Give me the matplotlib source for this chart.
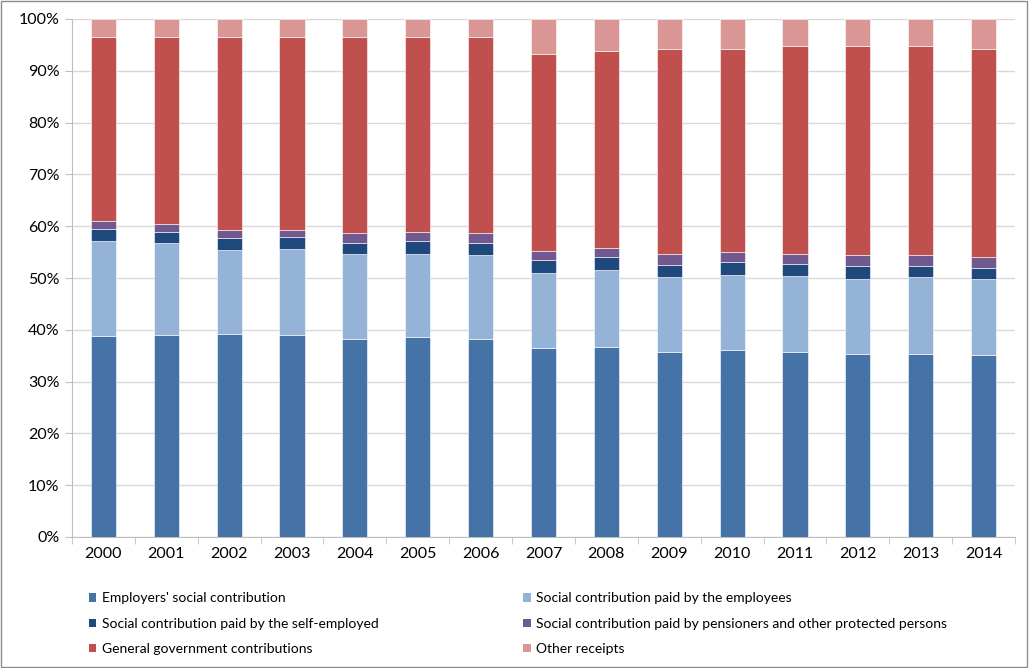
import matplotlib
matplotlib.use('Agg')
import matplotlib.pyplot as plt
import numpy as np
from matplotlib.patches import Rectangle, Patch
from matplotlib.ticker import PercentFormatter, FixedLocator

plt.rcParams['font.family'] = ['Lato', 'DejaVu Sans']

years = ['2000', '2001', '2002', '2003', '2004', '2005', '2006', '2007',
         '2008', '2009', '2010', '2011', '2012', '2013', '2014']

# shares in % of total receipts
employers = [38.8, 38.9, 39.1, 38.9, 38.2, 38.6, 38.3, 36.4, 36.7, 35.8, 36.1, 35.8, 35.3, 35.3, 35.1]
employees = [18.4, 17.8, 16.4, 16.7, 16.4, 16.0, 16.1, 14.6, 14.8, 14.3, 14.4, 14.5, 14.6, 14.8, 14.7]
self_emp = [2.3, 2.2, 2.2, 2.3, 2.2, 2.6, 2.3, 2.5, 2.5, 2.5, 2.5, 2.4, 2.5, 2.3, 2.2]
pensioners = [1.5, 1.5, 1.6, 1.4, 1.8, 1.7, 1.9, 1.7, 1.7, 2.0, 2.0, 2.0, 2.0, 2.0, 2.1]
government = [35.6, 36.2, 37.3, 37.3, 38.0, 37.7, 38.0, 38.0, 38.2, 39.7, 39.3, 40.0, 40.3, 40.3, 40.2]
other = [3.4, 3.4, 3.4, 3.4, 3.4, 3.4, 3.4, 6.8, 6.1, 5.7, 5.7, 5.3, 5.3, 5.3, 5.7]

labels = ["Employers' social contribution",
          "Social contribution paid by the employees",
          "Social contribution paid by the self-employed",
          "Social contribution paid by pensioners and other protected persons",
          "General government contributions",
          "Other receipts"]
colors = ['#4572A7', '#95B3D7', '#1F497D', '#71588F', '#C0504D', '#D99694']
series = [employers, employees, self_emp, pensioners, government, other]

fig = plt.figure(figsize=(10.29, 6.68), dpi=100)
ax = fig.add_axes([72 / 1029, 1 - 537 / 668, (1015 - 72) / 1029, (537 - 19) / 668])

x = np.arange(len(years))
bottom = np.zeros(len(years))
for vals, col, lab in zip(series, colors, labels):
    vals = np.array(vals)
    ax.bar(x, vals, 0.4, bottom=bottom, color=col, label=lab,
           edgecolor='white', linewidth=0.4, zorder=3)
    bottom += vals

ax.set_xlim(-0.5, len(years) - 0.5)
ax.set_ylim(0, 100)
ax.set_yticks(np.arange(0, 101, 10))
ax.yaxis.set_major_formatter(PercentFormatter(decimals=0))
ax.set_xticks(x)
ax.set_xticklabels(years)
ax.xaxis.set_minor_locator(FixedLocator(np.arange(-0.5, len(years), 1)))
ax.tick_params(axis='x', which='major', length=0, labelsize=11.5, pad=7)
ax.tick_params(axis='x', which='minor', length=5, color='#BFBFBF')
ax.tick_params(axis='y', length=5, color='#BFBFBF', labelsize=11.5, pad=4)
ax.grid(axis='y', color='#D9D9D9', linewidth=1, zorder=0)
for s in ['top', 'right']:
    ax.spines[s].set_visible(False)
for s in ['left', 'bottom']:
    ax.spines[s].set_color('#BFBFBF')

# legend laid out row-wise like the original (matplotlib fills columns first)
order = [0, 2, 4, 1, 3, 5]
handles = [Patch(facecolor=colors[i]) for i in order]
fig.legend(handles, [labels[i] for i in order], ncol=2, loc='upper left',
           bbox_to_anchor=(76 / 1029, 1 - 580 / 668), frameon=False,
           fontsize=10, handlelength=0.55, handleheight=0.55, handletextpad=0.4,
           labelspacing=0.95, columnspacing=10.4)

fig.patches.append(Rectangle((0.001, 0.001), 0.997, 0.997, transform=fig.transFigure,
                             fill=False, edgecolor='#8C8C8C', linewidth=1))

fig.savefig('out.png', dpi=100)
